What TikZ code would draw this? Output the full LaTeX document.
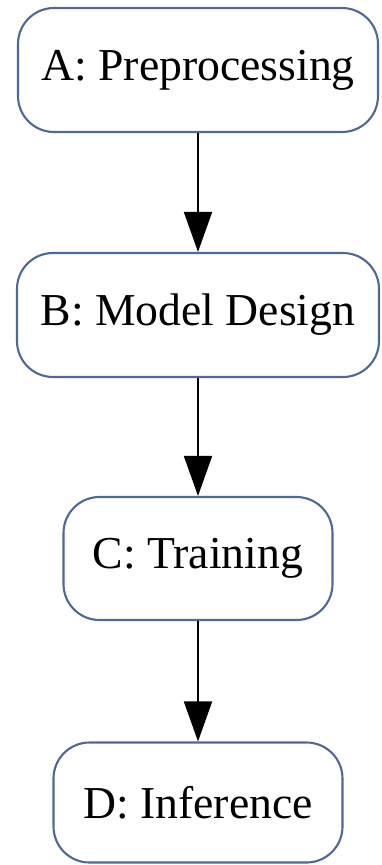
\documentclass[tikz,border=0pt]{standalone}
\usepackage{fontspec}
\setmainfont{Liberation Serif}
\usetikzlibrary{arrows.meta}
\definecolor{phaseedge}{RGB}{80,104,150}

\begin{document}
\begin{tikzpicture}[>={Triangle[length=0.8cm,width=0.56cm]},
    phase/.style={draw=phaseedge,line width=1.2pt,fill=white,
      rounded corners=0.72cm,inner sep=0pt,
      font=\fontsize{26}{30}\selectfont},
    flow/.style={->,line width=1.1pt,black}]
%
% ============ Rahmen ============
\useasboundingbox (0,0) rectangle (7.62,-17.3);
%
% ============ Phasen ============
\node[phase,minimum width=7.20cm,minimum height=2.48cm] (pre)   at (3.96,-1.40)  {A: Preprocessing};
\node[phase,minimum width=7.24cm,minimum height=2.48cm] (model) at (3.96,-6.30)  {B: Model Design};
\node[phase,minimum width=5.38cm,minimum height=2.46cm] (train) at (3.96,-11.17) {C: Training};
\node[phase,minimum width=5.78cm,minimum height=2.40cm] (infer) at (3.96,-16.05) {D: Inference};
%
% ============ Pfeile ============
\draw[flow] (pre)   -- (model);
\draw[flow] (model) -- (train);
\draw[flow] (train) -- (infer);
%
\end{tikzpicture}
\end{document}
